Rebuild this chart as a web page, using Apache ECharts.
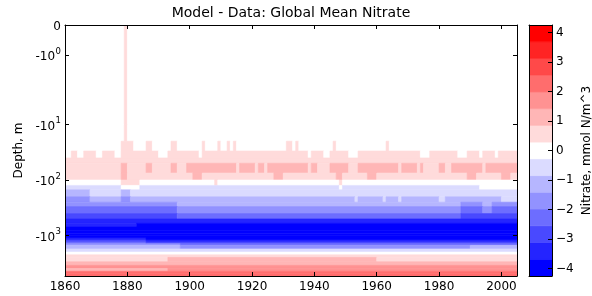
<!DOCTYPE html>
<html><head><meta charset="utf-8">
<script src="https://cdn.jsdelivr.net/npm/echarts@6/dist/echarts.min.js"></script>
<style>html,body{margin:0;padding:0;background:#fff}#c{width:592px;height:296px}</style>
</head><body><div id="c"></div>
<script>
// ---------------- DATA ----------------
const chartTitle = 'Model - Data: Global Mean Nitrate';
const yAxisTitle = 'Depth, m';
const cbarTitle = 'Nitrate, mmol N/m^3';
const yearStart = 1860;
const yearEnd = 2005;
const xTickYears = [1860, 1880, 1900, 1920, 1940, 1960, 1980, 2000];
const depthTicks = [0, 1, 10, 100, 1000];
const depthTickBase = ['0', '-10', '-10', '-10', '-10'];
const depthTickExp = ['', '0', '1', '2', '3'];
// depth layer edges (m)
const depthEdges = [0, 10, 20, 30, 40, 50, 75, 100, 125, 150, 200, 250, 300, 400, 500, 600, 700, 800, 900, 1000,
  1100, 1200, 1300, 1400, 1500, 1750, 2000, 2250, 2500, 3000, 3500, 4000, 4500, 5000, 5500];
// typical model-data difference of each layer (mmol N/m^3)
const layerBase = [0, 0, 0, 0.5, 0.5, 0.5, 0.5, 0, -0.5, -0.5, -1.1, -1.1, -1.7, -2.8, -3.3, -3.9, -3.9, -3.9, -3.9, -3.9,
  -3.9, -3.3, -2.8, -2.3, -1.7, -0.5, 0, 0.5, 1.1, 1.1, 1.6, 1.6, 2.2, 2.2];
// departures from the typical value: [layer, firstYear, lastYear, value]
const layerPatches = [
  [0, 1879, 1879, 0.4], [1, 1879, 1879, 0.4],
  [2, 1878, 1881, 0.5], [2, 1886, 1887, 0.5], [2, 1894, 1895, 0.5], [2, 1904, 1904, 0.5], [2, 1909, 1909, 0.5],
  [2, 1912, 1912, 0.5], [2, 1914, 1914, 0.5], [2, 1931, 1932, 0.5], [2, 1934, 1934, 0.5], [2, 1946, 1946, 0.5],
  [2, 1963, 1963, 0.5],
  [3, 1860, 1861, 0], [3, 1864, 1865, 0], [3, 1870, 1871, 0], [3, 1876, 1877, 0], [3, 1890, 1892, 0],
  [3, 1903, 1903, 0], [3, 1938, 1938, 0], [3, 1943, 1944, 0], [3, 1951, 1953, 0], [3, 1974, 1976, 0],
  [3, 1986, 1988, 0], [3, 1993, 1993, 0], [3, 1998, 1998, 0],
  [5, 1878, 1879, 1.1], [5, 1886, 1887, 1.1], [5, 1894, 1895, 1.1], [5, 1899, 1914, 1.1], [5, 1916, 1920, 1.1],
  [5, 1922, 1923, 1.1], [5, 1925, 1937, 1.1], [5, 1939, 1940, 1.1], [5, 1945, 1950, 1.1], [5, 1954, 1966, 1.1],
  [5, 1968, 1972, 1.1], [5, 1974, 1974, 1.1], [5, 1980, 1981, 1.1], [5, 1984, 1993, 1.1], [5, 1995, 2004, 1.1],
  [6, 1878, 1879, 1.1], [6, 1901, 1903, 1.1], [6, 1927, 1929, 1.1], [6, 1947, 1948, 1.1], [6, 1957, 1959, 1.1],
  [6, 1989, 1991, 1.1], [6, 2000, 2002, 1.1],
  [7, 1878, 1883, 0.5], [7, 1908, 1908, 0.5], [7, 1948, 1948, 0.5],
  [8, 1878, 1883, 0], [8, 1948, 1948, 0], [8, 1993, 2004, 0],
  [9, 1860, 1867, -1.1], [9, 1878, 1880, -1.1],
  [10, 1860, 1867, -1.7], [10, 1878, 1880, -1.7], [10, 1953, 1953, -0.5], [10, 1962, 1962, -0.5],
  [10, 1967, 1967, -0.5], [10, 1980, 1981, -0.5], [10, 2000, 2004, -0.5],
  [11, 1860, 1895, -1.7], [11, 1987, 1993, -1.7], [11, 1997, 2004, -1.7],
  [12, 1860, 1895, -2.3], [12, 1987, 1993, -2.3], [12, 1997, 2004, -2.3],
  [13, 1896, 1986, -2.3],
  [15, 1860, 1882, -3.3],
  [20, 1860, 1885, -3.3],
  [21, 1860, 1885, -2.8],
  [22, 1860, 1885, -2.3],
  [23, 1860, 1896, -1.7],
  [24, 1860, 1896, -1.1], [24, 1990, 2004, -1.1],
  [28, 1893, 1959, 1.1], [28, 1860, 1892, 0.5], [28, 1960, 2004, 0.5],
  [31, 1860, 1892, 1.1]
];
// colour levels of the colour bar
const levelEdges = [-4.25, -3.683, -3.117, -2.55, -1.983, -1.417, -0.85, -0.283, 0.283, 0.85, 1.417, 1.983, 2.55, 3.117, 3.683, 4.25];
const levelColors = ['#0000ff', '#2424ff', '#4949ff', '#6d6dff', '#9292ff', '#b6b6ff', '#dbdbff', '#ffffff',
  '#ffdbdb', '#ffb6b6', '#ff9292', '#ff6d6d', '#ff4949', '#ff2424', '#ff0000'];
const cbarTicks = [-4, -3, -2, -1, 0, 1, 2, 3, 4];
const cbarTickLabels = ['−4', '−3', '−2', '−1', '0', '1', '2', '3', '4'];

// ------------- depth scale (symmetric-log like) -------------
const scaleDepth = [0, 1, 10, 100, 1000, 5500];
const scalePos = [0, 30, 99.5, 155, 210.7, 251];
function T(d) {
  if (d <= scaleDepth[1]) return scalePos[1] * d / scaleDepth[1];
  for (let i = 1; i < scaleDepth.length - 1; i++) {
    if (d <= scaleDepth[i + 1]) {
      const f = (Math.log10(d) - Math.log10(scaleDepth[i])) / (Math.log10(scaleDepth[i + 1]) - Math.log10(scaleDepth[i]));
      return scalePos[i] + f * (scalePos[i + 1] - scalePos[i]);
    }
  }
  return scalePos[scalePos.length - 1];
}
function colorOf(v) {
  for (let i = 0; i < levelColors.length; i++) if (v < levelEdges[i + 1]) return levelColors[i];
  return levelColors[levelColors.length - 1];
}

// build merged cells
const cells = [];
for (let i = 0; i < layerBase.length; i++) {
  const row = [];
  for (let y = yearStart; y < yearEnd; y++) row.push(layerBase[i]);
  layerPatches.filter(p => p[0] === i).forEach(p => {
    for (let y = p[1]; y <= Math.min(p[2], yearEnd - 1); y++) row[y - yearStart] = p[3];
  });
  let s = 0;
  for (let k = 1; k <= row.length; k++) {
    if (k === row.length || row[k] !== row[s]) {
      cells.push([yearStart + s, yearStart + k, T(depthEdges[i]), T(depthEdges[i + 1]), row[s]]);
      s = k;
    }
  }
}
const cbarCells = levelColors.map((c, i) => [0, 1, levelEdges[i], levelEdges[i + 1], (levelEdges[i] + levelEdges[i + 1]) / 2]);

const FONT = 'DejaVu Sans';
const black = '#000';
const yTickPos = depthTicks.map(T);
function depthLabel(v) {
  for (let i = 0; i < yTickPos.length; i++) {
    if (Math.abs(yTickPos[i] - v) < 1e-6) {
      return depthTickExp[i] ? '{a|' + depthTickBase[i] + '}{s|' + depthTickExp[i] + '}' : '{a|' + depthTickBase[i] + '}';
    }
  }
  return '';
}
function cbarLabel(v) {
  for (let i = 0; i < cbarTicks.length; i++) if (Math.abs(cbarTicks[i] - v) < 1e-6) return cbarTickLabels[i];
  return '';
}
const line = { show: true, onZero: false, lineStyle: { color: black, width: 1 } };
const noTick = { show: false };
const noLabel = { show: false };
const AZ = 10;

const chart = echarts.init(document.getElementById('c'), null, { renderer: 'canvas' });
chart.setOption({
  animation: false,
  backgroundColor: '#fff',
  grid: [
    { left: 65, top: 25, width: 452, height: 251, show: false },
    { left: 529, top: 25, width: 23, height: 251, show: false }
  ],
  xAxis: [
    { type: 'value', gridIndex: 0, position: 'bottom', z: AZ, min: yearStart, max: yearEnd, axisLine: line,
      axisTick: { show: true, inside: true, length: 4, customValues: xTickYears, lineStyle: { color: black } },
      axisLabel: { show: true, customValues: xTickYears, margin: 5, color: black, fontSize: 12, fontFamily: FONT,
        formatter: v => String(v) },
      splitLine: { show: false } },
    { type: 'value', gridIndex: 0, position: 'top', z: AZ, min: yearStart, max: yearEnd, axisLine: line,
      axisTick: { show: true, inside: true, length: 4, customValues: xTickYears, lineStyle: { color: black } },
      axisLabel: noLabel, splitLine: { show: false } },
    { type: 'value', gridIndex: 1, position: 'bottom', z: AZ, min: 0, max: 1, axisLine: line, axisTick: noTick,
      axisLabel: noLabel, splitLine: { show: false } },
    { type: 'value', gridIndex: 1, position: 'top', z: AZ, min: 0, max: 1, axisLine: line, axisTick: noTick,
      axisLabel: noLabel, splitLine: { show: false } }
  ],
  yAxis: [
    { type: 'value', gridIndex: 0, position: 'left', z: AZ, inverse: true, min: 0, max: T(5500), axisLine: line,
      axisTick: { show: true, inside: true, length: 4, customValues: yTickPos, lineStyle: { color: black } },
      axisLabel: { show: true, customValues: yTickPos, margin: 4, color: black, fontSize: 12, fontFamily: FONT,
        formatter: depthLabel,
        rich: {
          a: { fontSize: 12, fontFamily: FONT, color: black, lineHeight: 16, verticalAlign: 'bottom' },
          s: { fontSize: 8.5, fontFamily: FONT, color: black, lineHeight: 16, verticalAlign: 'top', padding: [0, 0, 0, 0.5] }
        } },
      splitLine: { show: false } },
    { type: 'value', gridIndex: 0, position: 'right', z: AZ, inverse: true, min: 0, max: T(5500), axisLine: line,
      axisTick: { show: true, inside: true, length: 4, customValues: yTickPos, lineStyle: { color: black } },
      axisLabel: noLabel, splitLine: { show: false } },
    { type: 'value', gridIndex: 1, position: 'left', z: AZ, min: levelEdges[0], max: levelEdges[levelEdges.length - 1],
      axisLine: line, axisTick: noTick, axisLabel: noLabel, splitLine: { show: false } },
    { type: 'value', gridIndex: 1, position: 'right', z: AZ, min: levelEdges[0], max: levelEdges[levelEdges.length - 1],
      axisLine: line,
      axisTick: { show: true, inside: true, length: 4, customValues: cbarTicks, lineStyle: { color: black } },
      axisLabel: { show: true, customValues: cbarTicks, margin: 4, color: black, fontSize: 12, fontFamily: FONT,
        formatter: cbarLabel },
      splitLine: { show: false } }
  ],
  series: [
    { type: 'custom', xAxisIndex: 0, yAxisIndex: 0, clip: true, data: cells,
      encode: { x: [0, 1], y: [2, 3] },
      renderItem: function (params, api) {
        const p0 = api.coord([api.value(0), api.value(2)]);
        const p1 = api.coord([api.value(1), api.value(3)]);
        const c = colorOf(api.value(4));
        return { type: 'rect',
          shape: { x: Math.min(p0[0], p1[0]), y: Math.min(p0[1], p1[1]),
            width: Math.abs(p1[0] - p0[0]), height: Math.abs(p1[1] - p0[1]) },
          style: { fill: c, stroke: c, lineWidth: 0.6 } };
      } },
    { type: 'custom', xAxisIndex: 2, yAxisIndex: 3, clip: true, data: cbarCells,
      encode: { x: [0, 1], y: [2, 3] },
      renderItem: function (params, api) {
        const p0 = api.coord([api.value(0), api.value(2)]);
        const p1 = api.coord([api.value(1), api.value(3)]);
        const c = colorOf(api.value(4));
        return { type: 'rect',
          shape: { x: Math.min(p0[0], p1[0]), y: Math.min(p0[1], p1[1]),
            width: Math.abs(p1[0] - p0[0]), height: Math.abs(p1[1] - p0[1]) },
          style: { fill: c, stroke: c, lineWidth: 0.6 } };
      } }
  ],
  graphic: [
    { type: 'text', x: 291, y: 13.5, style: { text: chartTitle, fill: black, font: '14px "DejaVu Sans"',
      align: 'center', verticalAlign: 'middle' } },
    { type: 'text', x: 19, y: 150.5, rotation: Math.PI / 2, style: { text: yAxisTitle, fill: black,
      font: '12px "DejaVu Sans"', align: 'center', verticalAlign: 'middle' } },
    { type: 'text', x: 587, y: 150.5, rotation: Math.PI / 2, style: { text: cbarTitle, fill: black,
      font: '12px "DejaVu Sans"', align: 'center', verticalAlign: 'middle' } }
  ]
});
</script>
</body></html>
